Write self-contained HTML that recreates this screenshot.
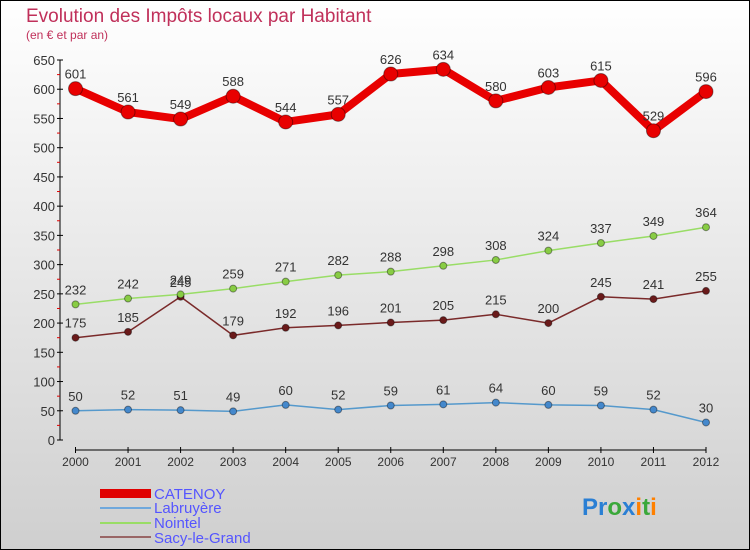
<!DOCTYPE html>
<html><head><meta charset="utf-8"><style>
body{margin:0}
#c{width:750px;height:550px;position:relative;overflow:hidden;font-family:"Liberation Sans",sans-serif}
</style></head><body>
<div id="c">
<svg id="s" width="750" height="550" xmlns="http://www.w3.org/2000/svg">
<defs><linearGradient id="bg" x1="0" y1="0" x2="0" y2="1"><stop offset="0" stop-color="#ffffff"/><stop offset="1" stop-color="#cfcfcf"/></linearGradient></defs>
<rect x="0.5" y="0.5" width="749" height="549" fill="url(#bg)" stroke="#000"/>
<text x="26" y="22" font-size="19" fill="#c0305a">Evolution des Impôts locaux par Habitant</text>
<text x="26" y="39" font-size="12" fill="#c0305a">(en € et par an)</text>
<g id="axes"></g>
<g id="series"></g>
<g>
<rect x="100" y="489" width="51" height="9" fill="#e00000"/>
<text x="154" y="499" font-size="15" fill="#5555ff">CATENOY</text>
<line x1="100" y1="508" x2="151" y2="508" stroke="#6fa8dc" stroke-width="2"/>
<text x="154" y="513" font-size="15" fill="#5555ff">Labruyère</text>
<line x1="100" y1="523" x2="151" y2="523" stroke="#99dd66" stroke-width="2"/>
<text x="154" y="528" font-size="15" fill="#5555ff">Nointel</text>
<line x1="100" y1="537" x2="151" y2="537" stroke="#996666" stroke-width="2"/>
<text x="154" y="543" font-size="15" fill="#5555ff">Sacy-le-Grand</text>
</g>
<text x="582" y="515" font-size="24" font-weight="bold"><tspan fill="#2a7fd4">Pr</tspan><tspan fill="#3aa83a">o</tspan><tspan fill="#2a7fd4">x</tspan><tspan fill="#ff8000">i</tspan><tspan fill="#3aa83a">t</tspan><tspan fill="#ff8000">i</tspan></text>
</svg>
</div>
<script>
const years=[2000,2001,2002,2003,2004,2005,2006,2007,2008,2009,2010,2011,2012];
const catenoy=[601,561,549,588,544,557,626,634,580,603,615,529,596];
const labruyere=[50,52,51,49,60,52,59,61,64,60,59,52,30];
const nointel=[232,242,249,259,271,282,288,298,308,324,337,349,364];
const sacy=[175,185,245,179,192,196,201,205,215,200,245,241,255];
const yTicks=[0,50,100,150,200,250,300,350,400,450,500,550,600,650];
const NS="http://www.w3.org/2000/svg";
function X(i){return 75.5+i*(706-75.5)/(years.length-1);}
function Y(v){return 440-v*380/650;}
function mk(t,a,p){const e=document.createElementNS(NS,t);for(const k in a)e.setAttribute(k,a[k]);p.appendChild(e);return e;}
const ax=document.getElementById('axes');
let l=mk('line',{x1:60,y1:Y(650),x2:60,y2:440,stroke:'#000'},ax);


yTicks.forEach(v=>{
 const t=mk('line',{x1:57,y1:Y(v),x2:63,y2:Y(v),stroke:'#000'},ax);
 
 
 if(v<650){const m=mk('line',{x1:57,y1:Y(v+25),x2:60,y2:Y(v+25),stroke:'#e00000'},ax);
 
 }
 const tx=mk('text',{x:55,y:Y(v)+5,'font-size':13,fill:'#333','text-anchor':'end'},ax);
 tx.textContent=v;
 
 
});
l=mk('line',{x1:75,y1:450,x2:706,y2:450,stroke:'#000'},ax);


years.forEach((yr,i)=>{
 const t=mk('line',{x1:X(i),y1:447,x2:X(i),y2:453,stroke:'#000'},ax);
 
 
 const tx=mk('text',{x:X(i),y:466,'font-size':12,fill:'#333','text-anchor':'middle'},ax);
 tx.textContent=yr;
 
 
});
const sg=document.getElementById('series');
function draw(name,data,color,w,r,dot){
 const g=mk('g',{},sg);
 
 
 const p=mk('polyline',{points:data.map((v,i)=>X(i)+','+Y(v)).join(' '),fill:'none',stroke:color,'stroke-width':w,'stroke-linejoin':'round'},g);
 
 
 data.forEach((v,i)=>{
  const c=mk('circle',{cx:X(i),cy:Y(v),r:r,fill:dot,stroke:'rgba(0,0,0,0.4)','stroke-width':1},g);
  
  
  const t=mk('text',{x:X(i),y:Y(v)-10,'font-size':13,fill:'#333','text-anchor':'middle'},g);
  t.textContent=v;
  
  
 });
}
draw('sacy',sacy,'#7a2a2a',1.5,3.5,'#6a1a1a');
draw('nointel',nointel,'#99dd66',1.5,3.5,'#88cc44');
draw('labruyere',labruyere,'#5599cc',1.5,3.5,'#4488cc');
draw('catenoy',catenoy,'#e80000',8,7,'#e80000');
</script>
</body></html>
